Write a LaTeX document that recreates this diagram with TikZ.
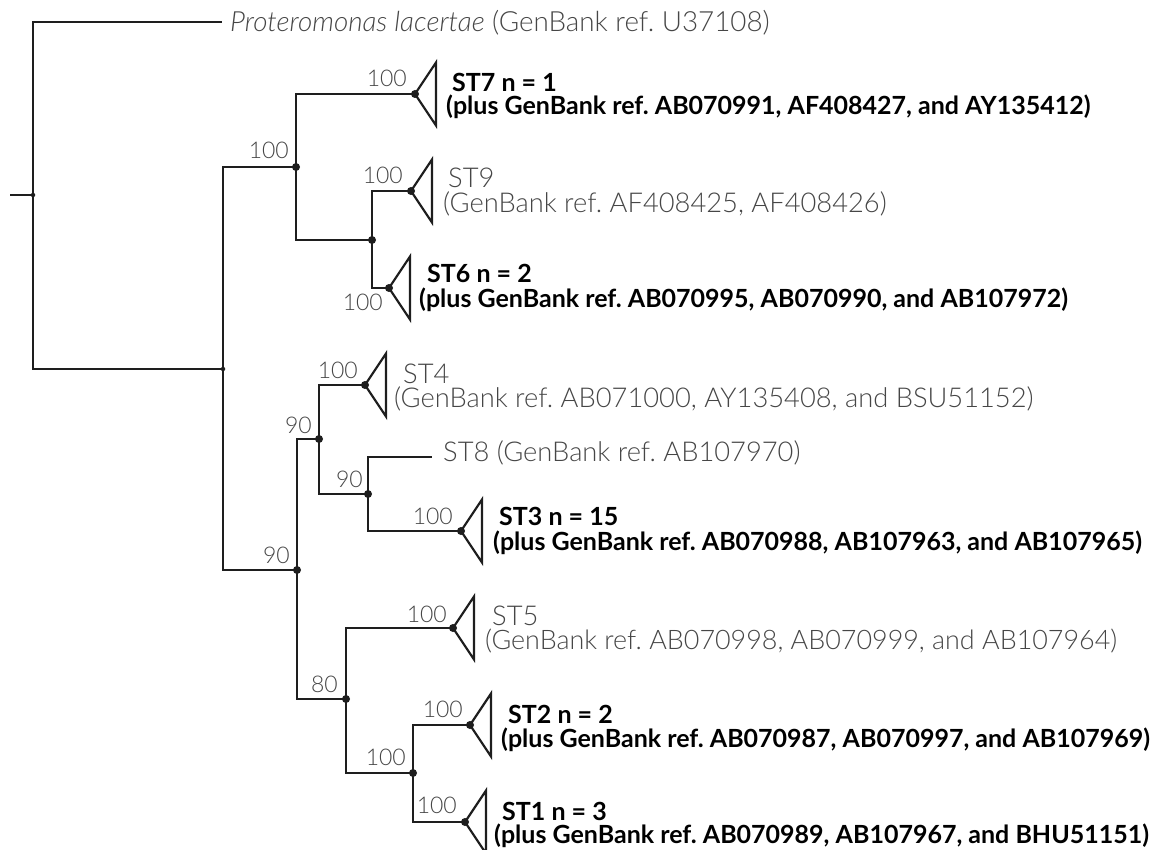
\documentclass[tikz,border=0pt]{standalone}
\usepackage{fontspec}
\setmainfont{Lato}
\newfontfamily\lightf{Lato Light}
\definecolor{linec}{RGB}{30,30,30}
\definecolor{txtg}{RGB}{70,70,70}
\frenchspacing
\begin{document}
\begin{tikzpicture}[x=1pt,y=-1pt,
  br/.style={draw=linec, line width=2.2pt},
  tri/.style={draw=linec, line width=2.2pt, line join=miter},
  bdot/.style={circle, fill=linec, inner sep=0pt, minimum size=8pt},
  sdot/.style={circle, fill=linec, inner sep=0pt, minimum size=4.5pt},
  boot/.style={inner sep=0pt, anchor=base east, text=txtg, font=\lightf\fontsize{23}{23}\selectfont},
  glab/.style={inner sep=0pt, anchor=base west, text=txtg, font=\lightf\fontsize{27.3}{27.3}\selectfont},
  blab/.style={inner sep=0pt, anchor=base west, text=black, font=\bfseries\fontsize{25}{25}\selectfont}]
\useasboundingbox (0,0) rectangle (1153,850);
% internal nodes
\coordinate (stub) at (10,195);
\coordinate (R) at (33,195);
\coordinate (A) at (223,369);
\coordinate (B) at (296,167);
\coordinate (C) at (372,240);
\coordinate (D) at (297,570);
\coordinate (E) at (319,439);
\coordinate (F) at (368,494);
\coordinate (G) at (346,699);
\coordinate (H) at (413,773);
% tips
\coordinate (tP) at (222,22);
\coordinate (t7) at (415,94);
\coordinate (t9) at (411,191);
\coordinate (t6) at (389,288);
\coordinate (t4) at (365,385);
\coordinate (t8) at (432,457);
\coordinate (t3) at (461,531);
\coordinate (t5) at (453,628);
\coordinate (t2) at (470,725);
\coordinate (t1) at (465,822);
% branches
\draw[br] (stub) -- (R);
\draw[br] (R) |- (tP);
\draw[br] (R) |- (A);
\draw[br] (A) |- (B);
\draw[br] (A) |- (D);
\draw[br] (B) |- (t7);
\draw[br] (B) |- (C);
\draw[br] (C) |- (t9);
\draw[br] (C) |- (t6);
\draw[br] (D) |- (E);
\draw[br] (D) |- (G);
\draw[br] (E) |- (t4);
\draw[br] (E) |- (F);
\draw[br] (F) |- (t8);
\draw[br] (F) |- (t3);
\draw[br] (G) |- (t5);
\draw[br] (G) |- (H);
\draw[br] (H) |- (t2);
\draw[br] (H) |- (t1);
% collapsed clades
\foreach \t in {t7,t9,t6,t4,t3,t5,t2,t1}
  \draw[tri] (\t) -- ++(21,-31.5) -- ++(0,63) -- cycle;
% dots
\node[sdot] (Rd) at (R) {};
\node[sdot] (Ad) at (A) {};
\foreach \n in {B,C,D,E,F,G,H,t7,t9,t6,t4,t3,t5,t2,t1}
  \node[bdot] (\n d) at (\n) {};
% bootstrap values
\node[boot] (b7) at (407,87) {100};
\node[boot] (bB) at (289,159) {100};
\node[boot] (b9) at (403,184) {100};
\node[boot] (b6) at (383,310) {100};
\node[boot] (bD) at (290,563) {90};
\node[boot] (bE) at (312,433) {90};
\node[boot] (b4) at (358,378) {100};
\node[boot] (bF) at (363,487) {90};
\node[boot] (b3) at (453,524) {100};
\node[boot] (b5) at (447,622) {100};
\node[boot] (bG) at (338,692) {80};
\node[boot] (bH) at (406,765) {100};
\node[boot] (b2) at (463,717) {100};
\node[boot] (b1) at (457,813) {100};
% tip labels
\node[glab, font=\lightf\fontsize{27.8}{27.8}\selectfont] (lP) at (230,32) {\textit{Proteromonas lacertae} (GenBank ref. U37108)};
\node[blab] (l7a) at (452,92) {ST7 n = 1};
\node[blab] (l7b) at (446,115) {(plus GenBank ref. AB070991, AF408427, and AY135412)};
\node[glab] (l9a) at (448,188) {ST9};
\node[glab] (l9b) at (443,213) {(GenBank ref. AF408425, AF408426)};
\node[blab] (l6a) at (427,283) {ST6 n = 2};
\node[blab] (l6b) at (419,307) {(plus GenBank ref. AB070995, AB070990, and AB107972)};
\node[glab] (l4a) at (403,383) {ST4};
\node[glab] (l4b) at (394,407) {(GenBank ref. AB071000, AY135408, and BSU51152)};
\node[glab] (l8) at (443,461) {ST8 (GenBank ref. AB107970)};
\node[blab] (l3a) at (499,525) {ST3 n = 15};
\node[blab] (l3b) at (493,550) {(plus GenBank ref. AB070988, AB107963, and AB107965)};
\node[glab] (l5a) at (492,625) {ST5};
\node[glab, font=\lightf\fontsize{26.9}{26.9}\selectfont] (l5b) at (485,649) {(GenBank ref. AB070998, AB070999, and AB107964)};
\node[blab] (l2a) at (508,723) {ST2 n = 2};
\node[blab] (l2b) at (501,747) {(plus GenBank ref. AB070987, AB070997, and AB107969)};
\node[blab] (l1a) at (502,820) {ST1 n = 3};
\node[blab] (l1b) at (494,843) {(plus GenBank ref. AB070989, AB107967, and BHU51151)};
\end{tikzpicture}
\end{document}
